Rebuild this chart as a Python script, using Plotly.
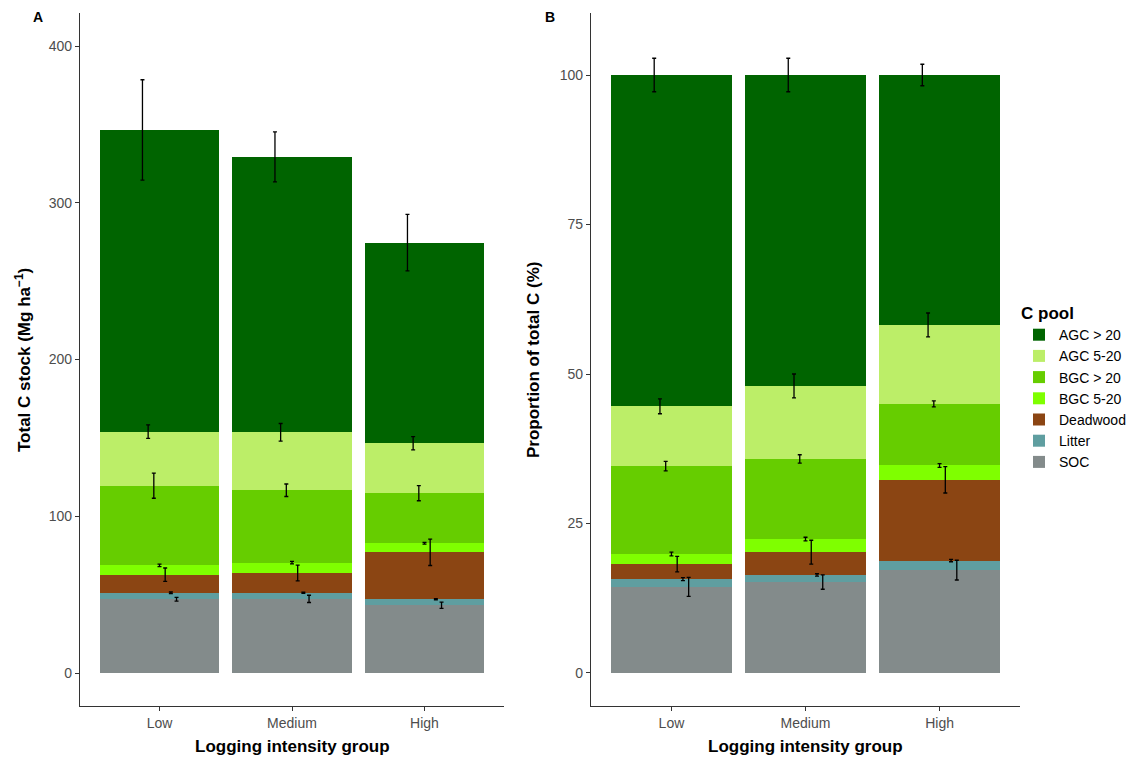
import numpy as np
import plotly.graph_objects as go

groups = ["Low", "Medium", "High"]
pools = ["SOC", "Litter", "Deadwood", "BGC 5-20", "BGC > 20", "AGC 5-20", "AGC > 20"]
colors = ["#838B8B", "#5F9EA0", "#8B4513", "#7FFF00", "#66CD00", "#BCEE68", "#006400"]

# Panel A: C stock (Mg/ha) per pool, per group (Low, Medium, High)
stock_SOC = [47.0, 47.3, 43.2]
stock_Litter = [4.2, 3.9, 3.8]
stock_Deadwood = [11.5, 12.6, 30.0]
stock_BGC_small = [6.0, 6.6, 5.8]
stock_BGC_large = [50.8, 46.2, 31.9]
stock_AGC_small = [34.5, 37.0, 31.9]
stock_AGC_large = [192.5, 175.7, 128.0]
# standard errors
se_stock_SOC = [1.2, 2.3, 2.0]
se_stock_Litter = [0.5, 0.4, 0.4]
se_stock_Deadwood = [4.3, 5.0, 8.4]
se_stock_BGC_small = [0.8, 0.8, 0.6]
se_stock_BGC_large = [8.0, 4.0, 4.8]
se_stock_AGC_small = [4.3, 5.6, 4.2]
se_stock_AGC_large = [32.0, 16.0, 18.0]

# Panel B: proportion of total C (%)
prop_SOC = [14.4, 15.2, 17.2]
prop_Litter = [1.3, 1.2, 1.6]
prop_Deadwood = [2.5, 3.8, 13.5]
prop_BGC_small = [1.7, 2.2, 2.4]
prop_BGC_large = [14.7, 13.4, 10.3]
prop_AGC_small = [10.0, 12.2, 13.2]
prop_AGC_large = [55.4, 52.0, 41.8]
se_prop_SOC = [1.6, 1.2, 1.65]
se_prop_Litter = [0.25, 0.2, 0.2]
se_prop_Deadwood = [1.3, 2.0, 2.2]
se_prop_BGC_small = [0.3, 0.3, 0.3]
se_prop_BGC_large = [0.8, 0.7, 0.5]
se_prop_AGC_small = [1.25, 2.0, 2.0]
se_prop_AGC_large = [2.8, 2.8, 1.8]

stock = [stock_SOC, stock_Litter, stock_Deadwood, stock_BGC_small, stock_BGC_large, stock_AGC_small, stock_AGC_large]
se_stock = [se_stock_SOC, se_stock_Litter, se_stock_Deadwood, se_stock_BGC_small, se_stock_BGC_large, se_stock_AGC_small, se_stock_AGC_large]
prop = [prop_SOC, prop_Litter, prop_Deadwood, prop_BGC_small, prop_BGC_large, prop_AGC_small, prop_AGC_large]
se_prop = [se_prop_SOC, se_prop_Litter, se_prop_Deadwood, se_prop_BGC_small, se_prop_BGC_large, se_prop_AGC_small, se_prop_AGC_large]

W, H = 1139, 760
FONT = "Liberation Sans, Arial, sans-serif"
xpos = np.arange(len(groups))
dodge = 0.3 / 7

fig = go.Figure()

def add_panel(vals, ses, xa, ya, showlegend):
    cum = np.cumsum(np.array(vals), axis=0)
    for i, p in enumerate(pools):
        fig.add_trace(go.Bar(
            x=xpos, y=vals[i], name=p, marker=dict(color=colors[i], line=dict(width=0)),
            width=0.9, xaxis=xa, yaxis=ya, showlegend=showlegend, legendgroup=p,
            hoverinfo="skip"))
    for i, p in enumerate(pools):
        off = (3 - i) * dodge
        fig.add_trace(go.Scatter(
            x=xpos + off, y=cum[i], mode="markers", marker=dict(size=1, color="rgba(0,0,0,0)"),
            error_y=dict(type="data", array=ses[i], color="black", thickness=1.3, width=2),
            xaxis=xa, yaxis=ya, showlegend=False, hoverinfo="skip"))

add_panel(stock, se_stock, "x", "y", True)
add_panel(prop, se_prop, "x2", "y2", False)

ydom = [1 - 706 / H, 1 - 13 / H]
axis_common = dict(showline=True, linecolor="#333333", linewidth=1.2, ticks="outside",
                   ticklen=4, tickcolor="#333333", tickwidth=1.2, showgrid=False, zeroline=False,
                   tickfont=dict(family=FONT, size=14, color="#4D4D4D"))

fig.update_layout(
    width=W, height=H, margin=dict(l=0, r=0, t=0, b=0),
    plot_bgcolor="white", paper_bgcolor="white", barmode="stack", bargap=0,
    font=dict(family=FONT),
    xaxis=dict(domain=[80 / W, 504 / W], range=[-0.6, 2.6], tickvals=list(xpos), ticktext=groups,
               anchor="y", **axis_common),
    yaxis=dict(domain=ydom, range=[-21.05, 421.1], tickvals=[0, 100, 200, 300, 400],
               anchor="x", **axis_common),
    xaxis2=dict(domain=[591 / W, 1020 / W], range=[-0.6, 2.6], tickvals=list(xpos), ticktext=groups,
                anchor="y2", **axis_common),
    yaxis2=dict(domain=ydom, range=[-5.52, 110.37], tickvals=[0, 25, 50, 75, 100],
                anchor="x2", **axis_common),
    legend=dict(x=1019 / W, y=1 - 297 / H, xanchor="left", yanchor="top", traceorder="reversed",
                title=dict(text="<b>C pool</b>", font=dict(family=FONT, size=17, color="black")),
                font=dict(family=FONT, size=14, color="black"), tracegroupgap=0,
                itemwidth=30, bgcolor="rgba(0,0,0,0)"),
)

annots = [
    dict(text="<b>A</b>", x=38 / W, y=1 - 17 / H, size=14),
    dict(text="<b>B</b>", x=550 / W, y=1 - 17 / H, size=14),
    dict(text="<b>Logging intensity group</b>", x=292 / W, y=1 - 746 / H, size=17),
    dict(text="<b>Logging intensity group</b>", x=805 / W, y=1 - 746 / H, size=17),
]
for a in annots:
    fig.add_annotation(text=a["text"], x=a["x"], y=a["y"], xref="paper", yref="paper",
                       showarrow=False, xanchor="center", yanchor="middle",
                       font=dict(family=FONT, size=a["size"], color="black"))
fig.add_annotation(text="<b>Total C stock (Mg ha<sup>−1</sup>)</b>", x=23 / W, y=1 - 360 / H,
                   xref="paper", yref="paper", showarrow=False, textangle=-90,
                   xanchor="center", yanchor="middle", font=dict(family=FONT, size=17, color="black"))
fig.add_annotation(text="<b>Proportion of total C (%)</b>", x=534 / W, y=1 - 360 / H,
                   xref="paper", yref="paper", showarrow=False, textangle=-90,
                   xanchor="center", yanchor="middle", font=dict(family=FONT, size=17, color="black"))

fig.write_html("out.html", config={"displayModeBar": False})

# remove default browser body margin so the figure fills the window exactly
with open("out.html", "r", encoding="utf-8") as f:
    html = f.read()
html = html.replace("<head>", "<head><style>html,body{margin:0;padding:0;overflow:hidden;}</style>", 1)
with open("out.html", "w", encoding="utf-8") as f:
    f.write(html)
